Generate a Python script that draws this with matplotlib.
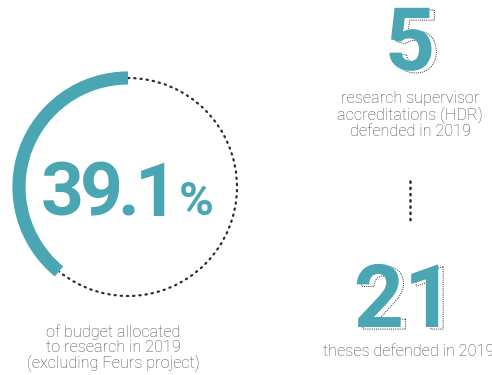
import numpy as np
import matplotlib
matplotlib.use("Agg")
import matplotlib.pyplot as plt
from matplotlib import patheffects
from matplotlib.patches import Arc, Circle

# Key figures
budget_share = 39.1          # % of budget allocated to research
hdr_count = 5                # research supervisor accreditations defended
theses_count = 21            # theses defended

budget_label = "of budget allocated\nto research in 2019\n(excluding Feurs project)"
hdr_label = "research supervisor\naccreditations (HDR)\ndefended in 2019"
theses_label = "theses defended in 2019"

TEAL = "#4aa6b2"
GREY = "#4a4a4a"
DOT = "#2b2b2b"

plt.rcParams["font.family"] = ["Roboto", "DejaVu Sans"]

fig = plt.figure(figsize=(4.92, 3.75), dpi=100)
ax = fig.add_axes([0, 0, 1, 1])
ax.set_xlim(0, 492)
ax.set_ylim(375, 0)
ax.set_aspect("equal")
ax.axis("off")
renderer = fig.canvas.get_renderer()

# Gauge: dotted full ring plus a thick arc for the share
cx, cy, r = 128, 187, 109
ring = Circle((cx, cy), r, fill=False, edgecolor=DOT, linewidth=1.6,
              linestyle=(0, (0.6, 2.2)), capstyle="round", zorder=1)
ax.add_patch(ring)
# y axis is inverted, so angles run clockwise on screen; go from top towards the left
span = 360 * budget_share / 100
mask = Arc((cx, cy), 2 * r, 2 * r, angle=0, theta1=270 - span, theta2=270,
           color="white", linewidth=8, capstyle="butt", zorder=1.5)
ax.add_patch(mask)
arc = Arc((cx, cy), 2 * r, 2 * r, angle=0, theta1=270 - span, theta2=270,
          color=TEAL, linewidth=9.5, capstyle="butt", zorder=2)
ax.add_patch(arc)


def tracked_text(x, y, s, tracking, **kw):
    """Write s one character at a time with tightened letter spacing (data px)."""
    for ch in s:
        t = ax.text(x, y, ch, ha="left", va="baseline", **kw)
        w = t.get_window_extent(renderer).width  # 1 px == 1 data unit here
        x += w + tracking
    return x


end_x = tracked_text(41, 216, f"{budget_share:.1f}", -4.5, fontsize=54,
                     fontweight="bold", color=TEAL)
ax.text(end_x + 5, 215, "%", ha="left", va="baseline", fontsize=34,
        fontweight="bold", color=TEAL)
ax.text(113, 348, budget_label, ha="center", va="center", fontsize=11.7,
        fontweight="light", color=GREY, linespacing=1.0)

# Big numbers with a dotted offset outline
shadow = [patheffects.PathPatchEffect(offset=(3.5, -1.5), facecolor="none",
                                      edgecolor=DOT, linewidth=0.7,
                                      linestyle=(0, (1, 1.2))),
          patheffects.Normal()]
ax.text(410, 70, str(hdr_count), ha="center", va="baseline", fontsize=63,
        fontweight="bold", color=TEAL, path_effects=shadow)
ax.text(410, 115, hdr_label, ha="center", va="center", fontsize=11.7,
        fontweight="light", color=GREY, linespacing=1.0)

# Dotted connector
ax.plot([410, 410], [181, 224], color=DOT, linewidth=1.8,
        linestyle=(0, (0.5, 2.0)), dash_capstyle="round")

ax.text(404, 327, str(theses_count), ha="center", va="baseline", fontsize=63,
        fontweight="bold", color=TEAL, path_effects=shadow)
ax.text(409, 352, theses_label, ha="center", va="center", fontsize=11.7,
        fontweight="light", color=GREY)

fig.savefig("out.png", dpi=100, facecolor="white")
